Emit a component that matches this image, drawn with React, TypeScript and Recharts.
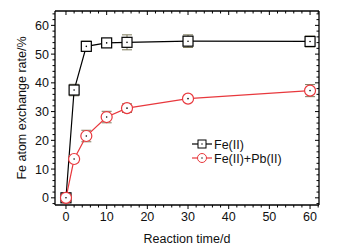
import { LineChart, Line, XAxis, YAxis, ErrorBar } from "recharts";

const days = [0, 2, 5, 10, 15, 30, 60];
const feOnly = [0, 37.5, 52.7, 53.9, 54.1, 54.5, 54.4];
const feOnlyErr = [0.8, 2.0, 1.8, 1.2, 2.6, 2.2, 1.9];
const fePb = [0, 13.5, 21.5, 28.1, 31.2, 34.5, 37.3];
const fePbErr = [0.8, 1.2, 2.0, 2.0, 1.5, 0.8, 2.1];

const xMajor = [0, 10, 20, 30, 40, 50, 60];
const xTicks = [0, 2, 4, 6, 8, 10, 12, 14, 16, 18, 20, 22, 24, 26, 28, 30, 32, 34, 36, 38, 40, 42, 44, 46, 48, 50, 52, 54, 56, 58, 60, 62];
const yMajor = [0, 10, 20, 30, 40, 50, 60];
const yTicks = [-2, 0, 2, 4, 6, 8, 10, 12, 14, 16, 18, 20, 22, 24, 26, 28, 30, 32, 34, 36, 38, 40, 42, 44, 46, 48, 50, 52, 54, 56, 58, 60, 62, 64];

const rows = days.map((t, i) => ({
    t,
    fe: feOnly[i],
    feErr: feOnlyErr[i],
    fePb: fePb[i],
    fePbErr: fePbErr[i],
}));

const FONT = "'Liberation Sans', Arial, sans-serif";
const RED = "#e8383d";
const ERR = "#7d7a5c";
const X_DOMAIN = [-2.7, 62.2];
const Y_DOMAIN = [-2.5, 65];

// ticks drawn by hand so majors and minors differ in length
const BottomTick = (p: any) => {
    const major = xMajor.includes(p.payload.value);
    return (
        <g>
            <line x1={p.x} x2={p.x} y1={p.y} y2={p.y + (major ? 4 : 2.5)} stroke="#000" />
            {major && (
                <text x={p.x} y={p.y + 16} textAnchor="middle" fontSize={12.5} fontFamily={FONT} fill="#111">
                    {p.payload.value}
                </text>
            )}
        </g>
    );
};
const TopTick = (p: any) => {
    const major = xMajor.includes(p.payload.value);
    return <line x1={p.x} x2={p.x} y1={p.y} y2={p.y + (major ? 4 : 2.5)} stroke="#000" />;
};
const LeftTick = (p: any) => {
    const major = yMajor.includes(p.payload.value);
    return (
        <g>
            <line x1={p.x} x2={p.x - (major ? 4 : 2.5)} y1={p.y} y2={p.y} stroke="#000" />
            {major && (
                <text x={p.x - 6} y={p.y + 4.5} textAnchor="end" fontSize={12.5} fontFamily={FONT} fill="#111">
                    {p.payload.value}
                </text>
            )}
        </g>
    );
};
const RightTick = (p: any) => {
    const major = yMajor.includes(p.payload.value);
    return <line x1={p.x} x2={p.x - (major ? 4 : 2.5)} y1={p.y} y2={p.y} stroke="#000" />;
};

const SquareDot = (p: any) => (
    <g key={`sq-${p.index}`}>
        <rect x={p.cx - 5} y={p.cy - 5} width={10} height={10} fill="#fff" stroke="#000" strokeWidth={1.2} />
        <circle cx={p.cx} cy={p.cy} r={0.8} fill="#000" />
    </g>
);
const CircleDot = (p: any) => (
    <g key={`ci-${p.index}`}>
        <circle cx={p.cx} cy={p.cy} r={5.5} fill="#fff" stroke={RED} strokeWidth={1.2} />
        <circle cx={p.cx} cy={p.cy} r={0.8} fill="#000" />
    </g>
);

const LegendBox = () => (
    <svg width={130} height={34} style={{ position: "absolute", left: 190, top: 136 }}>
        <line x1={2} x2={22} y1={8} y2={8} stroke="#000" strokeWidth={1.2} />
        <rect x={8} y={4} width={8} height={8} fill="#fff" stroke="#000" />
        <circle cx={12} cy={8} r={0.7} fill="#000" />
        <text x={24} y={12.5} fontSize={12.5} fontFamily={FONT} fill="#111">Fe(II)</text>
        <line x1={2} x2={22} y1={22} y2={22} stroke={RED} strokeWidth={1.2} />
        <circle cx={12} cy={22} r={4.5} fill="#fff" stroke={RED} />
        <circle cx={12} cy={22} r={0.7} fill="#000" />
        <text x={24} y={26.5} fontSize={12.5} fontFamily={FONT} fill="#111">Fe(II)+Pb(II)</text>
    </svg>
);

export default function App() {
    return (
        <div style={{ position: "absolute", left: 0, top: 0, width: 360, height: 251 }}>
            <LineChart width={360} height={251} data={rows} margin={{ top: 10, right: 40, bottom: 0, left: 0 }}>
                <XAxis
                    dataKey="t"
                    type="number"
                    domain={X_DOMAIN}
                    ticks={xTicks}
                    interval={0}
                    allowDataOverflow
                    height={46}
                    tickSize={0}
                    tickMargin={0}
                    tickLine={false}
                    tick={<BottomTick />}
                    axisLine={{ stroke: "#000", strokeWidth: 1.3 }}
                    label={{ value: "Reaction time/d", position: "insideBottom", offset: 8, fontSize: 12.5, fontFamily: FONT, fill: "#111" }}
                />
                <XAxis
                    xAxisId="top"
                    orientation="top"
                    dataKey="t"
                    type="number"
                    domain={X_DOMAIN}
                    ticks={xTicks}
                    interval={0}
                    allowDataOverflow
                    height={1}
                    tickSize={0}
                    tickMargin={0}
                    tickLine={false}
                    tick={<TopTick />}
                    axisLine={{ stroke: "#000", strokeWidth: 1.3 }}
                />
                <YAxis
                    type="number"
                    domain={Y_DOMAIN}
                    ticks={yTicks}
                    interval={0}
                    allowDataOverflow
                    width={55}
                    tickSize={0}
                    tickMargin={0}
                    tickLine={false}
                    tick={<LeftTick />}
                    axisLine={{ stroke: "#000", strokeWidth: 1.3 }}
                    label={{ value: "Fe atom exchange rate/%", angle: -90, position: "insideLeft", offset: 22, fontSize: 12.5, fontFamily: FONT, fill: "#111", style: { textAnchor: "middle" } }}
                />
                <YAxis
                    yAxisId="right"
                    orientation="right"
                    type="number"
                    domain={Y_DOMAIN}
                    ticks={yTicks}
                    interval={0}
                    allowDataOverflow
                    width={1}
                    tickSize={0}
                    tickMargin={0}
                    tickLine={false}
                    tick={<RightTick />}
                    axisLine={{ stroke: "#000", strokeWidth: 1.3 }}
                />
                {/* invisible series so the mirrored frame axes get drawn */}
                <Line xAxisId="top" yAxisId="right" dataKey="fe" stroke="none" dot={false} activeDot={false} legendType="none" isAnimationActive={false} />
                <Line dataKey="fe" name="Fe(II)" stroke="#000" strokeWidth={1.2} dot={SquareDot} isAnimationActive={false}>
                    <ErrorBar dataKey="feErr" direction="y" width={5} stroke={ERR} strokeWidth={1} />
                </Line>
                <Line dataKey="fePb" name="Fe(II)+Pb(II)" stroke={RED} strokeWidth={1.2} dot={CircleDot} isAnimationActive={false}>
                    <ErrorBar dataKey="fePbErr" direction="y" width={5} stroke={ERR} strokeWidth={1} />
                </Line>
            </LineChart>
            <LegendBox />
        </div>
    );
}
